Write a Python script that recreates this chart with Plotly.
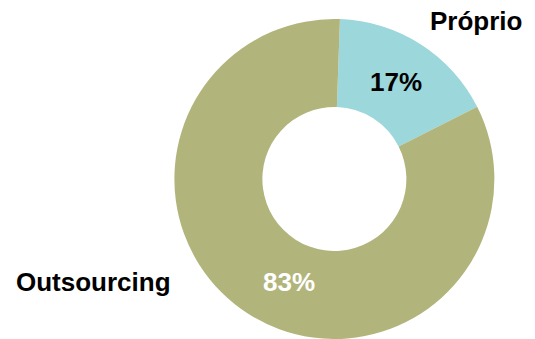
import plotly.graph_objects as go

categories = ["Próprio", "Outsourcing"]
values = [17, 83]
colors = ["#9BD7DB", "#B2B57B"]

W, H = 535, 339
MT = 19

fig = go.Figure(go.Pie(
    labels=categories,
    values=values,
    hole=0.45,
    sort=False,
    direction="clockwise",
    rotation=2,
    marker=dict(colors=colors, line=dict(width=0)),
    textinfo="none",
    hoverinfo="label+percent",
    showlegend=False,
    domain=dict(x=[0.325, 0.925], y=[0, 1]),
))

font = "Liberation Sans, Arial, sans-serif"
# (x px, y px, text, color)
ann_pos = [
    (475.5, 21, categories[0], "black"),
    (93.5, 282, categories[1], "black"),
    (396, 81.5, f"{values[0]}%", "black"),
    (288.5, 282, f"{values[1]}%", "white"),
]
annotations = []
for x, y, t, c in ann_pos:
    annotations.append(dict(
        x=x / W, y=1 - (y - MT) / (H - MT), xref="paper", yref="paper",
        text=f"<b>{t}</b>", showarrow=False,
        xanchor="center", yanchor="middle",
        font=dict(family=font, size=26, color=c),
    ))

fig.update_layout(
    width=W, height=H,
    margin=dict(l=0, r=0, t=MT, b=0),
    paper_bgcolor="white", plot_bgcolor="white",
    annotations=annotations,
)

fig.write_html("out.html")
